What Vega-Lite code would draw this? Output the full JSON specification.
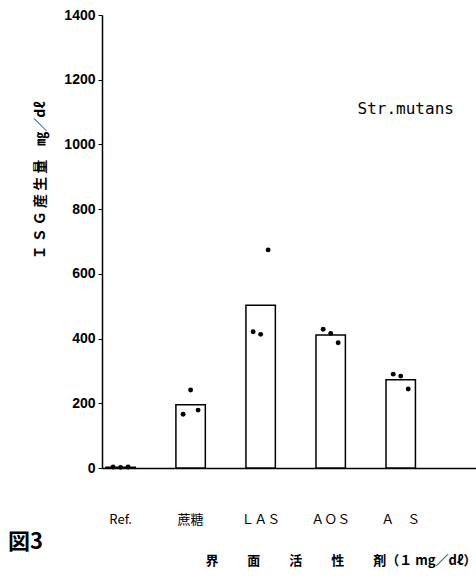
{
  "$schema": "https://vega.github.io/schema/vega-lite/v6.json",
  "width": 374,
  "height": 453,
  "autosize": {"type": "none"},
  "padding": {"left": 102, "top": 15, "right": 0, "bottom": 112},
  "background": "white",
  "title": {"text": "図3", "orient": "bottom", "anchor": "start", "frame": "group", "dx": -94, "offset": -35, "fontSize": 22, "font": "Noto Sans CJK JP", "fontWeight": "bold", "color": "black"},
  "config": {"view": {"stroke": null}, "axis": {"grid": false, "domainColor": "black", "tickColor": "black", "labelColor": "black", "titleColor": "black"}},
  "data": {"values": [
    {"cat": "Ref.", "rep": 1, "v": 3}, {"cat": "Ref.", "rep": 2, "v": 2}, {"cat": "Ref.", "rep": 3, "v": 3},
    {"cat": "蔗糖", "rep": 1, "v": 166}, {"cat": "蔗糖", "rep": 2, "v": 241}, {"cat": "蔗糖", "rep": 3, "v": 179},
    {"cat": "ＬＡＳ", "rep": 1, "v": 421}, {"cat": "ＬＡＳ", "rep": 2, "v": 413}, {"cat": "ＬＡＳ", "rep": 3, "v": 674},
    {"cat": "ＡＯＳ", "rep": 1, "v": 429}, {"cat": "ＡＯＳ", "rep": 2, "v": 416}, {"cat": "ＡＯＳ", "rep": 3, "v": 387},
    {"cat": "Ａ　Ｓ", "rep": 1, "v": 290}, {"cat": "Ａ　Ｓ", "rep": 2, "v": 284}, {"cat": "Ａ　Ｓ", "rep": 3, "v": 244}
  ]},
  "encoding": {
    "x": {"field": "cat", "type": "nominal", "sort": null,
      "scale": {"type": "band", "paddingInner": 0.58, "paddingOuter": 0.46, "align": 0.06},
      "axis": {"title": "界　　 面　　 活　　 性　　 剤（１ mg／dℓ）", "titleFont": "Noto Sans CJK JP", "titleFontSize": 13, "titleFontWeight": "bold", "titleAnchor": "end", "titlePadding": 28,
        "labelAngle": 0, "labelFont": "Noto Sans CJK JP", "labelFontSize": 13, "labelPadding": 45, "ticks": false, "domainWidth": 1.5}
    }
  },
  "layer": [
    {
      "mark": {"type": "bar", "fill": "white", "stroke": "black", "strokeWidth": 1.5},
      "encoding": {
        "y": {"aggregate": "mean", "field": "v", "type": "quantitative",
          "scale": {"domain": [0, 1400]},
          "axis": {"values": [0, 200, 400, 600, 800, 1000, 1200, 1400], "format": "d", "title": "Ｉ Ｓ Ｇ 産 生 量　㎎／dℓ", "titleFont": "Noto Sans CJK JP", "titleFontSize": 14, "titleFontWeight": "bold", "titleX": -62, "titleY": 165, "titleBaseline": "middle", "titleAlign": "center",
            "labelFont": "Liberation Sans", "labelFontWeight": "bold", "labelFontSize": 14, "labelPadding": 3, "tickSize": 4, "domainWidth": 1.5}
        }
      }
    },
    {
      "transform": [{"filter": "datum.rep == 1"}],
      "mark": {"type": "point", "filled": true, "color": "black", "size": 24, "opacity": 1},
      "encoding": {"y": {"field": "v", "type": "quantitative"}, "xOffset": {"value": 7.2}}
    },
    {
      "transform": [{"filter": "datum.rep == 2"}],
      "mark": {"type": "point", "filled": true, "color": "black", "size": 24, "opacity": 1},
      "encoding": {"y": {"field": "v", "type": "quantitative"}}
    },
    {
      "transform": [{"filter": "datum.rep == 3"}],
      "mark": {"type": "point", "filled": true, "color": "black", "size": 24, "opacity": 1},
      "encoding": {"y": {"field": "v", "type": "quantitative"}, "xOffset": {"value": 22.2}}
    },
    {
      "data": {"values": [{"label": "Str.mutans"}]},
      "mark": {"type": "text", "font": "DejaVu Sans Mono", "fontSize": 16, "baseline": "middle", "align": "center", "color": "black", "dx": 5},
      "encoding": {
        "x": {"datum": "Ａ　Ｓ"},
        "y": {"datum": 1110, "type": "quantitative"},
        "text": {"field": "label"}
      }
    }
  ]
}
